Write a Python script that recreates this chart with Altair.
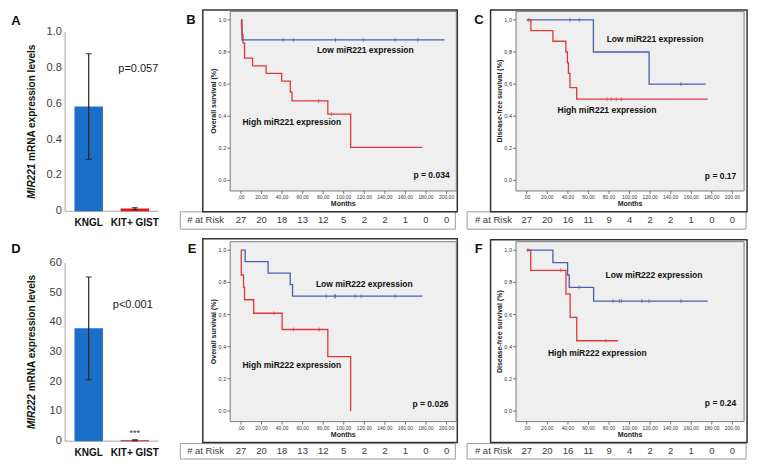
import altair as alt
import pandas as pd

W, H = 741, 452
SX = W / 757.0
SY = H / 468.0


def X(v):
    return round(v * SX, 2)


def Y(v):
    return round(v * SY, 2)


# ---------------- data : bar charts (A, D) ----------------
groups = ["KNGL", "KIT+ GIST"]
mir221_mean = [0.585, 0.015]
mir221_err = [0.295, 0.006]
mir222_mean = [38.0, 0.3]
mir222_err = [17.3, 0.2]
mir221_ticks = [0, 0.2, 0.4, 0.6, 0.8, 1.0]
mir221_labels = ["0", "0.2", "0.4", "0.6", "0.8", "1.0"]
mir222_ticks = [0, 10, 20, 30, 40, 50, 60]
mir222_labels = ["0", "10", "20", "30", "40", "50", "60"]

# ---------------- data : at-risk tables / KM axes ----------------
month_ticks = [0, 20, 40, 60, 80, 100, 120, 140, 160, 180, 200]
month_labels = [",00", "20,00", "40,00", "60,00", "80,00", "100,00", "120,00",
                "140,00", "160,00", "180,00", "200,00"]
surv_ticks = [0.0, 0.2, 0.4, 0.6, 0.8, 1.0]
surv_labels = ["0,0", "0,2", "0,4", "0,6", "0,8", "1,0"]
risk_os = [27, 20, 18, 13, 12, 5, 2, 2, 1, 0, 0]
risk_dfs = [27, 20, 16, 11, 9, 4, 2, 2, 1, 0, 0]

# ---------------- data : Kaplan-Meier curves ----------------
# B  overall survival, miR221
b_low_t = [0, 1.0, 198]
b_low_s = [1.0, 0.875, 0.875]
b_low_ct = [41, 51, 92, 119, 150, 172]
b_low_cs = [0.875, 0.875, 0.875, 0.875, 0.875, 0.875]
b_high_t = [0, 0.5, 1.0, 2.0, 3.5, 11.3, 24.5, 39.6, 48.0, 49.7, 84.5, 106.7, 176.5]
b_high_s = [1.0, 0.952, 0.905, 0.857, 0.762, 0.714, 0.667, 0.619, 0.55, 0.495, 0.413, 0.206, 0.206]
b_high_ct = [75.5, 88]
b_high_cs = [0.495, 0.413]

# C  disease-free survival, miR221
c_low_t = [0, 64.8, 119, 174]
c_low_s = [1.0, 0.8, 0.6, 0.6]
c_low_ct = [42, 51, 150]
c_low_cs = [1.0, 1.0, 0.6]
c_high_t = [0, 4, 25.4, 38, 39.5, 40.5, 42, 48.5, 176]
c_high_s = [1.0, 0.933, 0.867, 0.8, 0.733, 0.667, 0.578, 0.506, 0.506]
c_high_ct = [2, 78, 82, 87, 92]
c_high_cs = [1.0, 0.506, 0.506, 0.506, 0.506]

# E  overall survival, miR222
e_low_t = [0, 4.1, 26.4, 47.9, 50.2, 176.5]
e_low_s = [1.0, 0.929, 0.857, 0.786, 0.714, 0.714]
e_low_ct = [83, 91, 92, 111, 117, 150]
e_low_cs = [0.714, 0.714, 0.714, 0.714, 0.714, 0.714]
e_high_t = [0, 0.3, 2.5, 3.5, 12.4, 40, 84.5, 106.7]
e_high_s = [1.0, 0.846, 0.769, 0.692, 0.608, 0.507, 0.338, 0.0]
e_high_ct = [32, 51, 76]
e_high_cs = [0.608, 0.507, 0.507]

# F  disease-free survival, miR222
f_low_t = [0, 25.4, 39.7, 41.3, 65, 176]
f_low_s = [1.0, 0.923, 0.846, 0.769, 0.684, 0.684]
f_low_ct = [51, 84, 90, 92, 112, 119, 150]
f_low_cs = [0.769, 0.684, 0.684, 0.684, 0.684, 0.684, 0.684]
f_high_t = [0, 3.8, 38.1, 42.2, 48.6, 88.9]
f_high_s = [1.0, 0.875, 0.729, 0.583, 0.437, 0.437]
f_high_ct = [1, 33, 77]
f_high_cs = [1.0, 0.875, 0.437]

# ---------------- style ----------------
BAR_BLUE = "#1C6FC6"
BAR_RED = "#E3161E"
KM_BLUE = "#4B5FB0"
KM_RED = "#E0383A"
FONT = "Liberation Sans"
YMIN, YMAX = -0.066, 1.053
PPM = 1.05

dummy = pd.DataFrame({"k": [0]})


def letter(txt, x, y):
    return alt.Chart(dummy).mark_text(
        fontSize=13, fontWeight="bold", color="#111", align="center", baseline="middle"
    ).encode(x=alt.value(X(x)), y=alt.value(Y(y)), text=alt.value(txt))


def vtext(txt, x, y, size, weight="normal", style="normal", align="center", angle=0,
          color="#111"):
    return alt.Chart(dummy).mark_text(
        fontSize=size, fontWeight=weight, fontStyle=style, align=align,
        baseline="middle", angle=angle, color=color
    ).encode(x=alt.value(x), y=alt.value(y), text=alt.value(txt))


def bar_panel(mean, err, ticks, tlabels, ymax, y0, y1, ptxt, p_y, p_dx,
              t_ital, t_rest, t_center, let, let_y, stars_y=None):
    df = pd.DataFrame({
        "g": groups,
        "m": mean,
        "lo": [m - e for m, e in zip(mean, err)],
        "hi": [m + e for m, e in zip(mean, err)],
    })
    xs = alt.Scale(domain=groups, range=[X(58.5), X(153.5)],
                   paddingInner=0.383, paddingOuter=0.2)
    ys = alt.Scale(domain=[0, ymax], range=[Y(y0), Y(y1)], nice=False, zero=True)
    gx = alt.X("g:N", scale=xs, sort=groups, axis=None)

    bars = alt.Chart(df).mark_bar().encode(
        x=gx,
        y=alt.Y("m:Q", scale=ys, axis=None),
        color=alt.Color("g:N", scale=alt.Scale(domain=groups, range=[BAR_BLUE, BAR_RED]),
                        legend=None),
    )
    rule = alt.Chart(df).mark_rule(color="#222", strokeWidth=1.2).encode(
        x=gx, y=alt.Y("lo:Q", scale=ys, axis=None), y2="hi:Q")
    cap_hi = alt.Chart(df).mark_tick(color="#222", size=6, thickness=1.3).encode(
        x=gx, y=alt.Y("hi:Q", scale=ys, axis=None))
    cap_lo = alt.Chart(df).mark_tick(color="#222", size=6, thickness=1.3).encode(
        x=gx, y=alt.Y("lo:Q", scale=ys, axis=None))

    # axes
    ydom = alt.Chart(pd.DataFrame({"a": [0], "b": [ymax]})).mark_rule(
        color="#A8A8A8", strokeWidth=1).encode(
        x=alt.value(X(58.3)), y=alt.Y("a:Q", scale=ys, axis=None), y2="b:Q")
    xdom = alt.Chart(pd.DataFrame({"a": [0]})).mark_rule(
        color="#A8A8A8", strokeWidth=1).encode(
        x=alt.value(X(58.3)), x2=alt.value(X(153.5)), y=alt.Y("a:Q", scale=ys, axis=None))
    ylab = alt.Chart(pd.DataFrame({"v": ticks, "t": tlabels})).mark_text(
        fontSize=11, color="#404040", align="right", baseline="middle").encode(
        x=alt.value(X(55)), y=alt.Y("v:Q", scale=ys, axis=None), text="t:N")
    xlab = alt.Chart(pd.DataFrame({"g": groups})).mark_text(
        fontSize=10, fontWeight="bold", color="#111", baseline="middle").encode(
        x=gx, y=alt.value(Y(y0 + 12.5)), text="g:N")

    pdf = pd.DataFrame({"g": ["KIT+ GIST"], "v": [p_y], "t": [ptxt]})
    ptext = alt.Chart(pdf).mark_text(fontSize=11, color="#222", dx=p_dx,
                                     baseline="middle").encode(
        x=gx, y=alt.Y("v:Q", scale=ys, axis=None), text="t:N")
    half = 154.5 / 2
    start = Y(t_center) + half
    tit1 = vtext(t_ital, X(25), start, 10, "bold", "italic", "left", 270)
    tit2 = vtext(t_rest, X(25), start - 37.8, 10, "bold", "normal", "left", 270)
    layers = [ydom, xdom, bars, rule, cap_hi, cap_lo, ylab, xlab, ptext, tit1, tit2,
              letter(let, 8, let_y)]
    if stars_y is not None:
        sdf = pd.DataFrame({"g": ["KIT+ GIST"], "v": [stars_y], "t": ["***"]})
        layers.append(alt.Chart(sdf).mark_text(fontSize=9, color="#333",
                                               baseline="middle").encode(
            x=gx, y=alt.Y("v:Q", scale=ys, axis=None), text="t:N"))
    return alt.layer(*layers)


def km_panel(geo, low, high, low_c, high_c, risk, ytitle, notes):
    xmin = (geo["gl"] - geo["x0"]) / PPM
    xmax = (geo["gr"] - geo["x0"]) / PPM
    span = geo["y0"] - geo["y1"]
    gb = geo["y0"] - YMIN * span
    gt = geo["y0"] - YMAX * span
    xs = alt.Scale(domain=[xmin, xmax], range=[X(geo["gl"]), X(geo["gr"])],
                   nice=False, zero=False)
    ys = alt.Scale(domain=[YMIN, YMAX], range=[Y(gb), Y(gt)], nice=False, zero=False)

    def ex(f):
        return alt.X(f, scale=xs, axis=None)

    def ey(f):
        return alt.Y(f, scale=ys, axis=None)

    rbox = alt.Chart(dummy).mark_rect(fill="white", stroke="#9A9A9A", strokeWidth=1).encode(
        x=alt.value(X(geo["rl"])), x2=alt.value(X(geo["rr"])),
        y=alt.value(Y(geo["rt"])), y2=alt.value(Y(geo["rb"])))
    frame = alt.Chart(dummy).mark_rect(fill="white", fillOpacity=0, stroke="#333",
                                       strokeWidth=1.5).encode(
        x=alt.value(X(geo["fl"])), x2=alt.value(X(geo["fr"])),
        y=alt.value(Y(geo["ft"])), y2=alt.value(Y(geo["fb"])))
    bgdf = pd.DataFrame({"a": [xmin], "b": [xmax], "c": [YMIN], "d": [YMAX]})
    bg = alt.Chart(bgdf).mark_rect(fill="#EFEFEF", stroke="#7A7A7A", strokeWidth=1).encode(
        x=ex("a:Q"), x2="b:Q", y=ey("c:Q"), y2="d:Q")

    # axes (ticks, labels, titles) through the panel scales
    yax = pd.DataFrame({"v": surv_ticks, "t": surv_labels})
    xax = pd.DataFrame({"v": month_ticks, "t": month_labels})
    xl = X(geo["gl"])
    ytick = alt.Chart(yax).mark_rule(color="#555", strokeWidth=0.8).encode(
        y=ey("v:Q"), x=alt.value(xl - 3), x2=alt.value(xl))
    ylab = alt.Chart(yax).mark_text(fontSize=5.5, color="#333", align="right",
                                    baseline="middle").encode(
        y=ey("v:Q"), x=alt.value(xl - 4), text="t:N")
    ybot = Y(gb)
    xtick = alt.Chart(xax).mark_rule(color="#555", strokeWidth=0.8).encode(
        x=ex("v:Q"), y=alt.value(ybot), y2=alt.value(ybot + 3))
    xlab = alt.Chart(xax).mark_text(fontSize=5, color="#333", baseline="middle").encode(
        x=ex("v:Q"), y=alt.value(ybot + 6), text="t:N")
    xtitle = vtext("Months", (X(geo["gl"]) + X(geo["gr"])) / 2, ybot + 13, 7, "bold",
                   color="#222")
    ytit = vtext(ytitle, xl - 16, (Y(gb) + Y(gt)) / 2, 7, "bold", angle=270, color="#222")

    def curve(t, s, color):
        return alt.Chart(pd.DataFrame({"t": t, "s": s})).mark_line(
            interpolate="step-after", color=color, strokeWidth=1.3).encode(
            x=ex("t:Q"), y=ey("s:Q"))

    def cens(t, s, color):
        return alt.Chart(pd.DataFrame({"t": t, "s": s})).mark_tick(
            orient="vertical", color=color, size=4, thickness=1).encode(
            x=ex("t:Q"), y=ey("s:Q"))

    def note(t, s, txt, align):
        return alt.Chart(pd.DataFrame({"t": [t], "s": [s], "txt": [txt]})).mark_text(
            fontSize=8.5, fontWeight="bold", color="#111", align=align,
            baseline="middle").encode(x=ex("t:Q"), y=ey("s:Q"), text="txt:N")

    rdf = pd.DataFrame({"t": month_ticks, "n": risk})
    rtext = alt.Chart(rdf).mark_text(fontSize=9.5, color="#3A3A3A", baseline="middle").encode(
        x=ex("t:Q"), y=alt.value(Y(geo["ry"])), text="n:N")
    rlabel = vtext("# at Risk", X(geo["rx"]), Y(geo["ry"]), 9.5, align="left",
                   color="#3A3A3A")

    layers = [rbox, frame, bg, ytick, ylab, xtick, xlab, xtitle, ytit,
              curve(low[0], low[1], KM_BLUE), curve(high[0], high[1], KM_RED),
              cens(low_c[0], low_c[1], KM_BLUE), cens(high_c[0], high_c[1], KM_RED)]
    for n in notes:
        layers.append(note(*n))
    layers += [rtext, rlabel, letter(geo["let"], geo["lx"], geo["ly"])]
    return alt.layer(*layers)


geo_B = dict(x0=238, gl=227, gr=458, y0=178.5, y1=12.3, fl=199, fr=459, ft=2, fb=211,
             rl=176, rr=457, rt=211, rb=229, ry=220, rx=183, let="B", lx=187, ly=12)
geo_C = dict(x0=530, gl=519, gr=752, y0=178.5, y1=12.3, fl=493, fr=755, ft=2, fb=211,
             rl=469, rr=754, rt=211, rb=229, ry=220, rx=477, let="C", lx=481, ly=12)
geo_E = dict(x0=238, gl=227, gr=458, y0=417.3, y1=250.8, fl=199, fr=459, ft=239, fb=450,
             rl=176, rr=457, rt=451, rb=467, ry=459, rx=183, let="E", lx=188, ly=250)
geo_F = dict(x0=530, gl=519, gr=752, y0=417.3, y1=250.8, fl=493, fr=755, ft=240, fb=450,
             rl=469, rr=754, rt=451, rb=467, ry=459, rx=477, let="F", lx=481, ly=250)

panel_A = bar_panel(mir221_mean, mir221_err, mir221_ticks, mir221_labels, 1.0, 210.5, 25,
                    "p=0.057", 0.795, 3.5, "MIR221", "mRNA expression levels", 117.5,
                    "A", 13)
panel_D = bar_panel(mir222_mean, mir222_err, mir222_ticks, mir222_labels, 60, 448.5, 264,
                    "p<0.001", 45.9, -2, "MIR222", "mRNA expression levels", 356,
                    "D", 250, stars_y=2.6)

panel_B = km_panel(geo_B, (b_low_t, b_low_s), (b_high_t, b_high_s),
                   (b_low_ct, b_low_cs), (b_high_ct, b_high_cs), risk_os,
                   "Overall survival (%)",
                   [(121, 0.815, "Low miR221 expression", "center"),
                    (49.5, 0.364, "High miR221 expression", "center"),
                    (203, 0.033, "p = 0.034", "right")])
panel_C = km_panel(geo_C, (c_low_t, c_low_s), (c_high_t, c_high_s),
                   (c_low_ct, c_low_cs), (c_high_ct, c_high_cs), risk_dfs,
                   "Disease-free survival (%)",
                   [(124.8, 0.881, "Low miR221 expression", "center"),
                    (78, 0.436, "High miR221 expression", "center"),
                    (203.8, 0.027, "p = 0.17", "right")])
panel_E = km_panel(geo_E, (e_low_t, e_low_s), (e_high_t, e_high_s),
                   (e_low_ct, e_low_cs), (e_high_ct, e_high_cs), risk_os,
                   "Overall survival (%)",
                   [(120, 0.79, "Low miR222 expression", "center"),
                    (49.5, 0.284, "High miR222 expression", "center"),
                    (202, 0.044, "p = 0.026", "right")])
panel_F = km_panel(geo_F, (f_low_t, f_low_s), (f_high_t, f_high_s),
                   (f_low_ct, f_low_cs), (f_high_ct, f_high_cs), risk_dfs,
                   "Disease-free survival (%)",
                   [(123.8, 0.844, "Low miR222 expression", "center"),
                    (68.6, 0.362, "High miR222 expression", "center"),
                    (203.8, 0.05, "p = 0.24", "right")])

chart = alt.layer(panel_A, panel_D, panel_B, panel_C, panel_E, panel_F).resolve_scale(
    x="independent", y="independent", color="independent"
).properties(
    width=W, height=H, padding=0, autosize=alt.AutoSizeParams(type="none")
).configure(font=FONT).configure_view(strokeWidth=0)

chart.save("out.html", embed_options={"renderer": "svg", "actions": False})
